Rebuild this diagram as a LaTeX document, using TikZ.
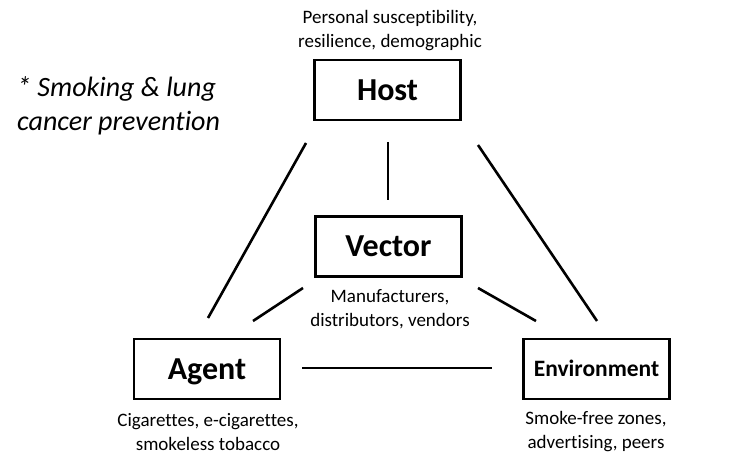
\documentclass[tikz,border=0pt]{standalone}
\usepackage{fontspec}
\setmainfont[Ligatures=NoCommon]{Carlito}
\begin{document}
\begin{tikzpicture}[x=1pt,y=-1pt,
  box/.style={draw,line width=2.6pt,minimum width=146pt,minimum height=60pt,inner sep=0pt,text height=20.5pt,text depth=0pt,font=\bfseries\fontsize{32}{32}\selectfont},
  lbl/.style={align=center,font=\fontsize{19}{24}\selectfont,inner sep=0pt},
  link/.style={line width=2.6pt}]
\useasboundingbox (0,0) rectangle (752,462);
\node[box] (host) at (387.5,90) {Host};
\node[box] (vector) at (388.5,246.5) {Vector};
\node[box] (agent) at (207,369) {Agent};
\node[box,text height=15pt,font=\bfseries\fontsize{23.5}{24}\selectfont] (env) at (596.5,369) {Environment};
\node[lbl] (hostl) at (390,31) {Personal susceptibility,\\resilience, demographic};
\node[lbl] (vecl) at (390,309) {Manufacturers,\\distributors, vendors};
\node[lbl] (agl) at (208,432) {Cigarettes, e-cigarettes,\\smokeless tobacco};
\node[lbl] (envl) at (596,432) {Smoke-free zones,\\advertising, peers};
\node[align=left,font=\itshape\fontsize{28}{34}\selectfont,inner sep=0pt,anchor=west] (note) at (17,106) {* Smoking \& lung\\cancer prevention};
\coordinate (hv1) at (388,142); \coordinate (hv2) at (388,200);
\coordinate (ha1) at (306,143); \coordinate (ha2) at (208,318);
\coordinate (he1) at (478,145); \coordinate (he2) at (597,321);
\coordinate (va1) at (303,288); \coordinate (va2) at (253,321);
\coordinate (ve1) at (478,288); \coordinate (ve2) at (536,321);
\coordinate (ae1) at (302,368); \coordinate (ae2) at (492,368);
\draw[link] (hv1) -- (hv2);
\draw[link] (ha1) -- (ha2);
\draw[link] (he1) -- (he2);
\draw[link] (va1) -- (va2);
\draw[link] (ve1) -- (ve2);
\draw[link] (ae1) -- (ae2);
\end{tikzpicture}
\end{document}
